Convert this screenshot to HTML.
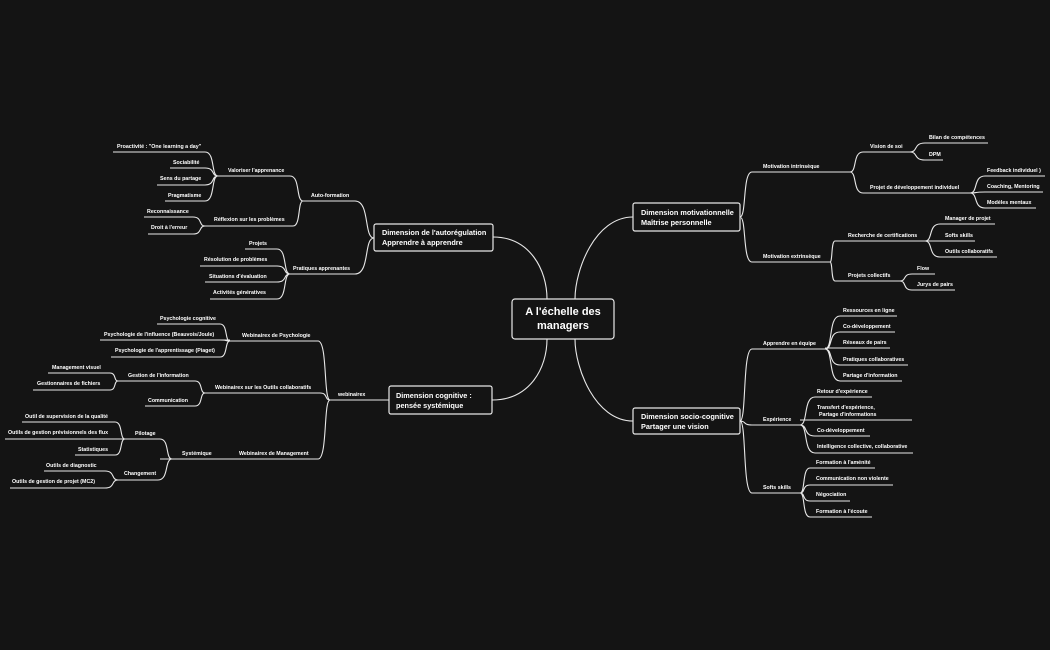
<!DOCTYPE html>
<html><head><meta charset="utf-8"><style>
html,body{margin:0;padding:0;background:#141414;}
svg{display:block}
text{font-family:"Liberation Sans",sans-serif;fill:#fff;font-weight:bold;font-size:5.3px}
.m{font-size:7.3px}
.c{font-size:11px}
</style></head><body>
<svg id="s" width="1050" height="650" viewBox="0 0 1050 650" xmlns="http://www.w3.org/2000/svg">
<rect width="1050" height="650" fill="#141414"/>
<g id="lines" fill="none" stroke="#e8e8e8" stroke-width="1.1"></g>
<g fill="#141414" stroke="#e8e8e8" stroke-width="1.2">
<rect x="512" y="299" width="102" height="40" rx="3"/>
<rect x="374" y="224" width="119" height="27" rx="2"/>
<rect x="389" y="386" width="103" height="28" rx="2"/>
<rect x="633" y="203" width="107" height="28" rx="2"/>
<rect x="633" y="408" width="107" height="26" rx="2"/>
</g>
<text class="c" x="563" y="315" text-anchor="middle">A l'échelle des</text>
<text class="c" x="563" y="329" text-anchor="middle">managers</text>
<text class="m" x="382" y="235">Dimension de l'autorégulation</text>
<text class="m" x="382" y="245">Apprendre à apprendre</text>
<text class="m" x="396" y="398">Dimension cognitive :</text>
<text class="m" x="396" y="408">pensée systémique</text>
<text class="m" x="641" y="215">Dimension motivationnelle</text>
<text class="m" x="641" y="225">Maîtrise personnelle</text>
<text class="m" x="641" y="419">Dimension socio-cognitive</text>
<text class="m" x="641" y="429">Partager  une vision</text>

<text x="311" y="197">Auto-formation</text>
<text x="228" y="172">Valoriser l'apprenance</text>
<text x="117" y="148">Proactivité : "One learning a day"</text>
<text x="173" y="164">Sociabilité</text>
<text x="160" y="180">Sens du partage</text>
<text x="168" y="197">Pragmatisme</text>
<text x="214" y="221">Réflexion sur les problèmes</text>
<text x="147" y="213">Reconnaissance</text>
<text x="151" y="229">Droit à l'erreur</text>
<text x="293" y="270">Pratiques apprenantes</text>
<text x="249" y="245">Projets</text>
<text x="204" y="261">Résolution de problèmes</text>
<text x="209" y="278">Situations d'évaluation</text>
<text x="213" y="294">Activités génératives</text>

<text x="338" y="396">webinairex</text>
<text x="242" y="337">Webinairex  de Psychologie</text>
<text x="160" y="320">Psychologie cognitive</text>
<text x="104" y="336">Psychologie de l'influence (Beauvois/Joule)</text>
<text x="115" y="352">Psychologie de l'apprentissage (Piaget)</text>
<text x="215" y="389">Webinairex sur les Outils collaboratifs</text>
<text x="128" y="377">Gestion de l'information</text>
<text x="52" y="369">Management visuel</text>
<text x="37" y="385">Gestionnaires  de fichiers</text>
<text x="148" y="402">Communication</text>
<text x="239" y="455">Webinairex de Management</text>
<text x="182" y="455">Systémique</text>
<text x="135" y="435">Pilotage</text>
<text x="25" y="418">Outil de supervision de la qualité</text>
<text x="8" y="434">Outils de gestion prévisionnels des flux</text>
<text x="78" y="451">Statistiques</text>
<text x="124" y="475">Changement</text>
<text x="46" y="467">Outils de diagnostic</text>
<text x="12" y="483">Outils de gestion de projet (MC2)</text>

<text x="763" y="168">Motivation intrinsèque</text>
<text x="870" y="148">Vision de soi</text>
<text x="929" y="139">Bilan de compétences</text>
<text x="929" y="156">DPM</text>
<text x="870" y="189">Projet de développement individuel</text>
<text x="987" y="172">Feedback individuel )</text>
<text x="987" y="188">Coaching, Mentoring</text>
<text x="987" y="204">Modèles mentaux</text>
<text x="763" y="258">Motivation extrinsèque</text>
<text x="848" y="237">Recherche de certifications</text>
<text x="945" y="220">Manager de projet</text>
<text x="945" y="237">Softs skills</text>
<text x="945" y="253">Outils collaboratifs</text>
<text x="848" y="277">Projets collectifs</text>
<text x="917" y="270">Flow</text>
<text x="917" y="286">Jurys de pairs</text>

<text x="763" y="345">Apprendre en équipe</text>
<text x="843" y="312">Ressources en ligne</text>
<text x="843" y="328">Co-développement</text>
<text x="843" y="344">Réseaux de pairs</text>
<text x="843" y="361">Pratiques collaboratives</text>
<text x="843" y="377">Partage d'information</text>
<text x="763" y="421">Expérience</text>
<text x="817" y="393">Retour d'expérience</text>
<text x="817" y="409">Transfert d'expérience,</text>
<text x="819" y="416">Partage d'informations</text>
<text x="817" y="432">Co-développement</text>
<text x="817" y="448">Intelligence collective, collaborative</text>
<text x="763" y="489">Softs skills</text>
<text x="816" y="464">Formation à l'aménité</text>
<text x="816" y="480">Communication non violente</text>
<text x="816" y="496">Négociation</text>
<text x="816" y="513">Formation à l'écoute</text>
</svg>
<script>
var g=document.getElementById('lines'),d='';
function L(x1,x2,y){d+='M'+x1+','+y+'H'+x2;}
function E(px,py,cx,cy){var dx=cx-px;d+='M'+px+','+py+'C'+(px+dx*0.55)+','+py+' '+(px+dx*0.2)+','+cy+' '+cx+','+cy;}
d+='M493,237C530,237 547,270 547,299M492,400C530,400 547,368 547,339M633,217C595,217 575,270 575,299M633,421C595,421 575,368 575,339';
[[303,355,201],[218,290,176],[113,205,152],[170,205,168],[157,205,185],[165,205,201],[205,293,226],[144,193,217],[148,193,234],[290,355,274],[245,277,249],[200,277,266],[205,277,282],[210,277,299]].forEach(a=>L(a[0],a[1],a[2]));
E(374,238,355,201);E(374,238,355,274);
E(303,201,290,176);E(303,201,293,226);
[152,168,185,201].forEach(y=>E(218,176,205,y));
[217,234].forEach(y=>E(205,226,193,y));
[249,266,282,299].forEach(y=>E(290,274,277,y));
[[330,389,400],[230,318,341],[157,220,324],[100,230,340],[111,220,357],[205,320,393],[118,195,381],[48,110,373],[33,110,390],[145,195,406],[160,318,459],[5,160,439],[22,115,422],[75,115,455],[118,158,480],[44,105,471],[10,105,488]].forEach(a=>L(a[0],a[1],a[2]));
E(330,400,318,341);E(330,400,320,393);E(330,400,318,459);
[324,340,357].forEach(y=>E(230,341,220,y));
E(205,393,195,381);E(205,393,195,406);
[373,390].forEach(y=>E(118,381,110,y));
E(172,459,160,439);E(172,459,158,480);
[422,439,455].forEach(y=>E(125,439,115,y));
[471,488].forEach(y=>E(118,480,105,y));
[[752,850,172],[863,910,152],[925,988,143],[925,943,160],[863,970,193],[985,1045,176],[985,1043,192],[985,1036,208],[752,830,262],[835,925,241],[940,995,224],[940,975,241],[940,997,257],[835,900,281],[912,935,274],[912,955,290]].forEach(a=>L(a[0],a[1],a[2]));
E(740,217,752,172);E(740,217,752,262);
E(850,172,863,152);E(850,172,863,193);
E(910,152,925,143);E(910,152,925,160);
[176,192,208].forEach(y=>E(970,193,985,y));
E(830,262,835,241);E(830,262,835,281);
[224,241,257].forEach(y=>E(925,241,940,y));
E(900,281,912,274);E(900,281,912,290);
[[752,825,349],[840,897,316],[840,895,332],[825,890,348],[840,908,365],[840,902,381],[752,800,425],[815,872,397],[800,912,420],[815,870,436],[815,913,453],[752,800,493],[810,875,468],[810,893,485],[810,850,501],[810,872,517]].forEach(a=>L(a[0],a[1],a[2]));
E(740,421,752,349);E(740,421,752,425);E(740,421,752,493);
[316,332,365,381].forEach(y=>E(825,349,840,y));
[397,436,453].forEach(y=>E(800,425,815,y));
[468,485,501,517].forEach(y=>E(800,493,810,y));
var p=document.createElementNS('http://www.w3.org/2000/svg','path');p.setAttribute('d',d);g.appendChild(p);
</script>
</body></html>
